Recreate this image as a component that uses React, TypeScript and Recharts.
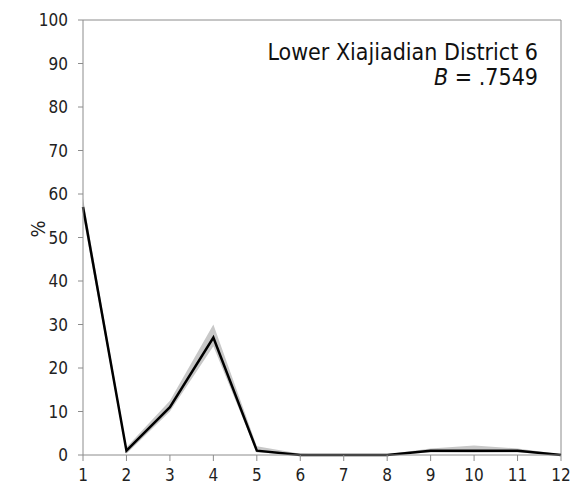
import React from "react";
import {
  ComposedChart,
  Line,
  Area,
  XAxis,
  YAxis,
  ReferenceLine,
  Label
} from "recharts";

const categories = [1, 2, 3, 4, 5, 6, 7, 8, 9, 10, 11, 12];
const values = [57, 1, 11, 27, 1, 0, 0, 0, 1, 1, 1, 0];
const lower = [55, 0.3, 10, 25, 0.6, 0, 0, 0, 0.6, 0.5, 0.6, 0];
const upper = [59, 1.8, 12.5, 30, 2, 0.3, 0, 0.2, 1.5, 2.2, 1.5, 0.2];
const yTicks = [0, 10, 20, 30, 40, 50, 60, 70, 80, 90, 100];

const data = categories.map((c, i) => ({
  x: c,
  v: values[i],
  band: [lower[i], upper[i]]
}));

const axisGrey = "#8c8c8c";
const font = "'DejaVu Sans Condensed', 'DejaVu Sans', Verdana, sans-serif";

export default function App() {
  return (
    <div style={{ position: "absolute", left: 0, top: 0, width: 572, height: 486, background: "#fff", fontFamily: font }}>
      <ComposedChart width={572} height={486} data={data} margin={{ top: 20, right: 11, bottom: 0, left: 0 }}>
        <XAxis
          dataKey="x"
          type="number"
          domain={[1, 12]}
          ticks={categories}
          stroke={axisGrey}
          tick={{ fill: "#222", fontSize: 17, fontFamily: font }}
          tickSize={6}
          tickMargin={8}
          height={31}
        />
        <YAxis
          domain={[0, 100]}
          ticks={yTicks}
          stroke={axisGrey}
          tick={{ fill: "#222", fontSize: 17, fontFamily: font }}
          tickSize={5}
          tickMargin={10}
          width={83}
          interval={0}
        >
          <Label value="%" angle={-90} position="insideLeft" offset={38} style={{ fill: "#222", fontSize: 20, fontFamily: font }} />
        </YAxis>
        <ReferenceLine y={100} stroke={axisGrey} />
        <ReferenceLine x={12} stroke={axisGrey} />
        <Area dataKey="band" stroke="none" fill="#c8c8c8" fillOpacity={1} isAnimationActive={false} />
        <Line dataKey="v" stroke="#000" strokeWidth={2.5} dot={false} isAnimationActive={false} />
      </ComposedChart>
      <div style={{ position: "absolute", right: 34, top: 40, textAlign: "right", fontSize: 23, lineHeight: "25px", color: "#111" }}>
        <div>Lower Xiajiadian District 6</div>
        <div><i>B</i> = .7549</div>
      </div>
    </div>
  );
}
